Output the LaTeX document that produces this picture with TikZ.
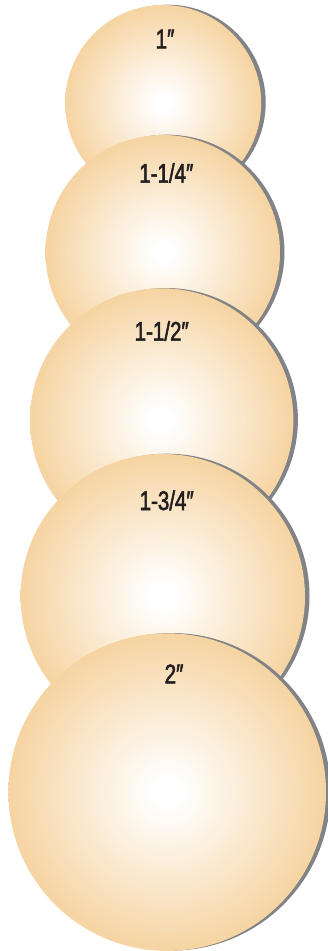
\documentclass[tikz,border=0pt]{standalone}
\usepackage{fontspec}
\usepackage{tikz}
\setmainfont{Liberation Sans}[FakeStretch=0.76,FakeBold=2]
\definecolor{BallEdge}{RGB}{246,212,162}
\definecolor{ShadowGray}{RGB}{130,131,134}
\definecolor{LabelInk}{RGB}{35,31,32}
\usetikzlibrary{shadows, positioning}
\pgfdeclareradialshading{ballshade}{\pgfpoint{0bp}{0bp}}{color(0bp)=(white); color(2bp)=(white); color(25bp)=(BallEdge); color(50bp)=(BallEdge)}

\begin{document}
\begin{tikzpicture}[x=1pt, y=-1pt]
    \tikzset{
        sizeball/.style={circle, inner sep=0pt, shading=ballshade,
            drop shadow={shadow xshift=4.5pt, shadow yshift=0.3pt,
                opacity=1, fill=ShadowGray}},
        sizelabel/.style={anchor=base, inner sep=0pt, text=LabelInk,
            font=\fontsize{27}{27}\selectfont}
    }
    \useasboundingbox (0,0) rectangle (328,951);
    % smallest at the top, each one laid over the one above
    \node[sizeball, minimum size=196pt] (ball1) at (163.2,103) {};
    \node[sizelabel] (lbl1) at (165,48.3) {1″};
    \node[sizeball, minimum size=234.6pt] (ball2) at (162.7,252.3) {};
    \node[sizelabel] (lbl2) at (166.3,182.7) {1-1/4″};
    \node[sizeball, minimum size=263.4pt] (ball3) at (161.7,420) {};
    \node[sizelabel] (lbl3) at (161.7,340.7) {1-1/2″};
    \node[sizeball, minimum size=284.4pt] (ball4) at (162.8,596.2) {};
    \node[sizelabel] (lbl4) at (166.7,510) {1-3/4″};
    \node[sizeball, minimum size=317.6pt] (ball5) at (167.2,792.1) {};
    \node[sizelabel] (lbl5) at (174,683.3) {2″};
\end{tikzpicture}
\end{document}
